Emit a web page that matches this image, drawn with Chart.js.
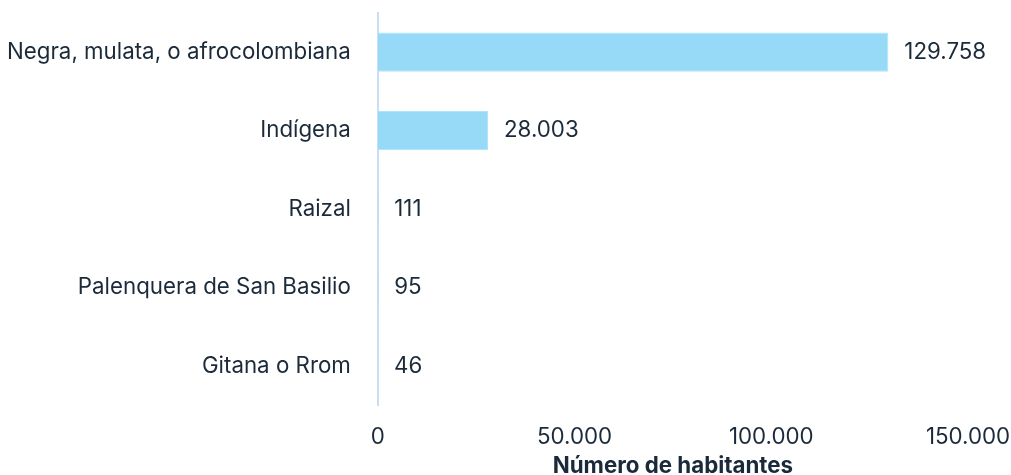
<!DOCTYPE html>
<html>
<head>
<meta charset="utf-8">
<script src="https://cdn.jsdelivr.net/npm/chart.js@4"></script>
<style>
  body { margin: 0; background: #fff; }
  #wrap { width: 1011px; height: 475px; }
</style>
</head>
<body>
<div id="wrap"><canvas id="chart"></canvas></div>
<script>
const categories = [
    "Negra, mulata, o afrocolombiana",
    "Indígena",
    "Raizal",
    "Palenquera de San Basilio",
    "Gitana o Rrom"
];
const habitantes = [129758, 28003, 111, 95, 46];
const xTicks = [0, 50000, 100000, 150000];

const textColor = "#1b2a3a";
const fontFamily = "Inter, sans-serif";
const fontSize = 22.3;

// dots as thousand separators, like the original
function fmt(n) {
    return String(n).replace(/\B(?=(\d{3})+(?!\d))/g, ".");
}

// draws the value next to the end of each bar
const valueLabels = {
    id: "valueLabels",
    afterDatasetsDraw(chart) {
        const ctx = chart.ctx;
        const meta = chart.getDatasetMeta(0);
        ctx.save();
        ctx.font = fontSize + "px " + fontFamily;
        ctx.fillStyle = textColor;
        ctx.textAlign = "left";
        ctx.textBaseline = "middle";
        meta.data.forEach((bar, i) => {
            ctx.fillText(fmt(chart.data.datasets[0].data[i]), bar.x + 16, bar.y);
        });
        ctx.restore();
    }
};

new Chart(document.getElementById("chart"), {
    type: "bar",
    data: {
        labels: categories,
        datasets: [{
            data: habitantes,
            backgroundColor: "#97daf7",
            borderColor: "#b0e3f9",
            borderWidth: 1,
            barPercentage: 0.5,
            categoryPercentage: 1.0
        }]
    },
    options: {
        indexAxis: "y",
        responsive: true,
        maintainAspectRatio: false,
        animation: false,
        layout: {
            padding: { left: 7, right: 43, top: 13, bottom: 0 }
        },
        plugins: {
            legend: { display: false },
            tooltip: { enabled: false }
        },
        scales: {
            x: {
                min: 0,
                max: 150000,
                afterBuildTicks(scale) {
                    scale.ticks = xTicks.map(v => ({ value: v }));
                },
                // fixed height, and let layout.padding decide the right edge
                afterFit(scale) {
                    scale.height = 70;
                    scale.paddingLeft = 0;
                    scale.paddingRight = 0;
                },
                grid: { display: false, drawTicks: false },
                border: { display: false },
                ticks: {
                    padding: 19,
                    color: textColor,
                    font: { family: fontFamily, size: fontSize },
                    callback: v => fmt(v)
                },
                title: {
                    display: true,
                    text: "Número de habitantes",
                    color: textColor,
                    font: { family: fontFamily, size: fontSize, weight: "bold", lineHeight: 0.8 },
                    padding: 0
                }
            },
            y: {
                // padding only between label and axis, and no extra height above/below
                afterFit(scale) {
                    scale.width -= scale.options.ticks.padding;
                    scale.paddingTop = 0;
                    scale.paddingBottom = 0;
                },
                grid: { display: false, drawTicks: false },
                border: { display: true, color: "#c9def2", width: 2 },
                ticks: {
                    padding: 27,
                    color: textColor,
                    font: { family: fontFamily, size: fontSize }
                }
            }
        }
    },
    plugins: [valueLabels]
});
</script>
</body>
</html>
